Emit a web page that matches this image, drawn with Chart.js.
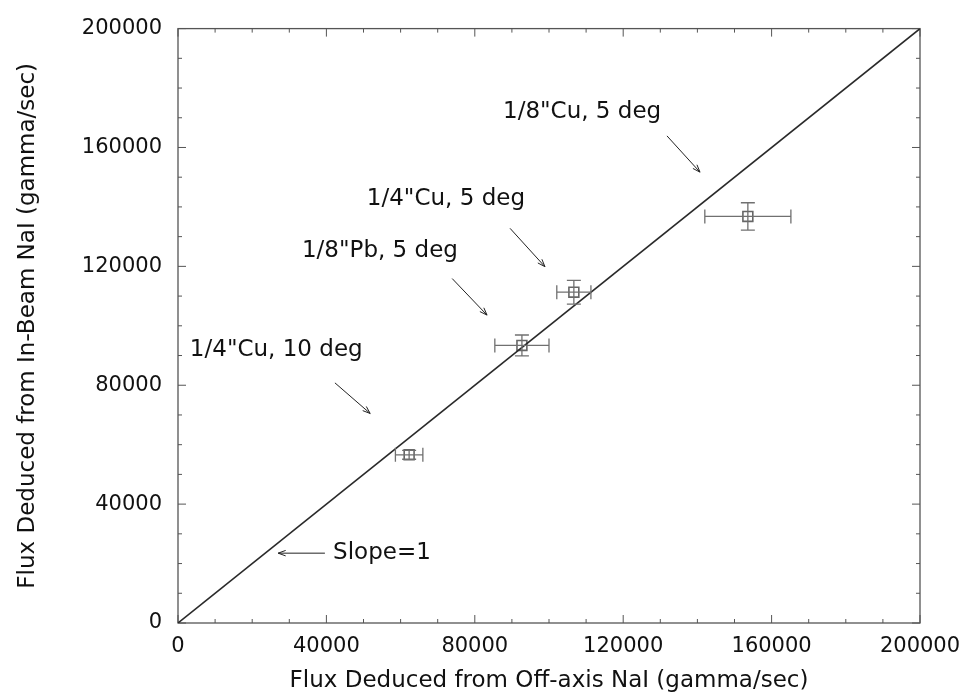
<!DOCTYPE html>
<html>
<head>
<meta charset="utf-8">
<script src="https://cdn.jsdelivr.net/npm/chart.js@4.4.0/dist/chart.umd.min.js"></script>
<style>
  html, body { margin: 0; padding: 0; background: #fff; }
  #wrap { width: 974px; height: 697px; }
</style>
</head>
<body>
<div id="wrap"><canvas id="fluxChart"></canvas></div>
<script>
// measured points (gamma/sec)
const offAxis = [62300, 92700, 106700, 153600];
const offAxisErr = [3700, 7300, 4600, 11600];
const inBeam = [56600, 93400, 111300, 136800];
const inBeamErr = [1500, 3500, 4000, 4600];

// slope = 1 reference line
const slopeX = [0, 200000];
const slopeY = [0, 200000];

// axis ticks
const tickValues = [0, 40000, 80000, 120000, 160000, 200000];
const minorStep = 10000;

// annotations, in data units
const noteText = ['1/8"Cu, 5 deg', '1/4"Cu, 5 deg', '1/8"Pb, 5 deg', '1/4"Cu, 10 deg', 'Slope=1'];
const noteX = [87600, 50900, 33400, 3200, 41800];
const noteY = [171900, 142700, 125200, 91700, 23500];
const arrowFromX = [131800, 89500, 73900, 42300, 39600];
const arrowFromY = [163900, 132800, 115900, 80800, 23500];
const arrowToX = [140700, 98900, 83300, 51800, 27000];
const arrowToY = [151700, 119900, 103600, 70500, 23500];

const FONT = 'DejaVu Sans';

const framePlugin = {
  id: 'frame',
  beforeDatasetsDraw(chart) {
    const { ctx, chartArea: a, scales: { x, y } } = chart;
    ctx.save();
    ctx.strokeStyle = '#555';
    ctx.lineWidth = 1.3;
    ctx.strokeRect(a.left, a.top, a.right - a.left, a.bottom - a.top);

    // inward ticks on all four sides
    ctx.lineWidth = 1;
    ctx.beginPath();
    for (let v = 0; v <= 200000; v += minorStep) {
      const len = tickValues.includes(v) ? 8 : 4;
      const px = x.getPixelForValue(v);
      const py = y.getPixelForValue(v);
      ctx.moveTo(px, a.bottom); ctx.lineTo(px, a.bottom - len);
      ctx.moveTo(px, a.top); ctx.lineTo(px, a.top + len);
      ctx.moveTo(a.left, py); ctx.lineTo(a.left + len, py);
      ctx.moveTo(a.right, py); ctx.lineTo(a.right - len, py);
    }
    ctx.stroke();
    ctx.restore();
  },
  afterDatasetsDraw(chart) {
    const { ctx, scales: { x, y } } = chart;
    ctx.save();

    // error bars
    ctx.strokeStyle = '#707070';
    ctx.lineWidth = 1.3;
    const cap = 7;
    offAxis.forEach((xv, i) => {
      const cx = x.getPixelForValue(xv);
      const cy = y.getPixelForValue(inBeam[i]);
      const x0 = x.getPixelForValue(xv - offAxisErr[i]);
      const x1 = x.getPixelForValue(xv + offAxisErr[i]);
      const y0 = y.getPixelForValue(inBeam[i] - inBeamErr[i]);
      const y1 = y.getPixelForValue(inBeam[i] + inBeamErr[i]);
      ctx.beginPath();
      ctx.moveTo(x0, cy); ctx.lineTo(x1, cy);
      ctx.moveTo(x0, cy - cap); ctx.lineTo(x0, cy + cap);
      ctx.moveTo(x1, cy - cap); ctx.lineTo(x1, cy + cap);
      ctx.moveTo(cx, y0); ctx.lineTo(cx, y1);
      ctx.moveTo(cx - cap, y0); ctx.lineTo(cx + cap, y0);
      ctx.moveTo(cx - cap, y1); ctx.lineTo(cx + cap, y1);
      ctx.stroke();
    });

    // labels
    ctx.fillStyle = '#111';
    ctx.font = '23px "' + FONT + '"';
    ctx.textAlign = 'left';
    ctx.textBaseline = 'middle';
    noteText.forEach((t, i) => {
      ctx.fillText(t, x.getPixelForValue(noteX[i]), y.getPixelForValue(noteY[i]));
    });

    // arrows
    ctx.strokeStyle = '#222';
    ctx.lineWidth = 1;
    noteText.forEach((t, i) => {
      const fx = x.getPixelForValue(arrowFromX[i]);
      const fy = y.getPixelForValue(arrowFromY[i]);
      const tx = x.getPixelForValue(arrowToX[i]);
      const ty = y.getPixelForValue(arrowToY[i]);
      const ang = Math.atan2(ty - fy, tx - fx);
      const head = 8;
      ctx.beginPath();
      ctx.moveTo(fx, fy); ctx.lineTo(tx, ty);
      ctx.moveTo(tx, ty);
      ctx.lineTo(tx - head * Math.cos(ang - 0.35), ty - head * Math.sin(ang - 0.35));
      ctx.moveTo(tx, ty);
      ctx.lineTo(tx - head * Math.cos(ang + 0.35), ty - head * Math.sin(ang + 0.35));
      ctx.stroke();
    });
    ctx.restore();
  }
};

const points = offAxis.map((v, i) => ({ x: v, y: inBeam[i] }));
const line = slopeX.map((v, i) => ({ x: v, y: slopeY[i] }));

new Chart(document.getElementById('fluxChart'), {
  type: 'scatter',
  data: {
    datasets: [
      {
        label: 'Slope=1',
        type: 'line',
        data: line,
        borderColor: '#2a2a2a',
        borderWidth: 1.6,
        pointRadius: 0,
        fill: false
      },
      {
        label: 'Flux',
        data: points,
        pointStyle: 'rect',
        pointRadius: 7,
        borderColor: '#666',
        borderWidth: 1.6,
        backgroundColor: 'rgba(0,0,0,0)'
      }
    ]
  },
  options: {
    responsive: true,
    maintainAspectRatio: false,
    animation: false,
    layout: { padding: { top: 19, right: 54, left: 0, bottom: 0 } },
    plugins: {
      legend: { display: false },
      tooltip: { enabled: false }
    },
    scales: {
      x: {
        type: 'linear',
        min: 0,
        max: 200000,
        afterFit: (s) => { s.height = 74; },
        afterBuildTicks: (s) => { s.ticks = tickValues.map(v => ({ value: v })); },
        grid: { display: false, drawTicks: false },
        border: { display: false },
        ticks: {
          padding: 11,
          color: '#111',
          maxRotation: 0,
          font: { family: FONT, size: 21 },
          callback: (v) => String(v)
        },
        title: {
          display: true,
          text: 'Flux Deduced from Off-axis NaI (gamma/sec)',
          color: '#111',
          font: { family: FONT, size: 23 },
          padding: { top: 0, bottom: 2 }
        }
      },
      y: {
        type: 'linear',
        min: 0,
        max: 200000,
        afterFit: (s) => { s.width = 178; },
        afterBuildTicks: (s) => { s.ticks = tickValues.map(v => ({ value: v })); },
        grid: { display: false, drawTicks: false },
        border: { display: false },
        ticks: {
          padding: 16,
          color: '#111',
          font: { family: FONT, size: 21 },
          callback: (v) => String(v)
        },
        title: {
          display: true,
          text: 'Flux Deduced from In-Beam NaI (gamma/sec)',
          color: '#111',
          font: { family: FONT, size: 23 },
          padding: { top: 14, bottom: 0 }
        }
      }
    }
  },
  plugins: [framePlugin]
});
</script>
</body>
</html>
